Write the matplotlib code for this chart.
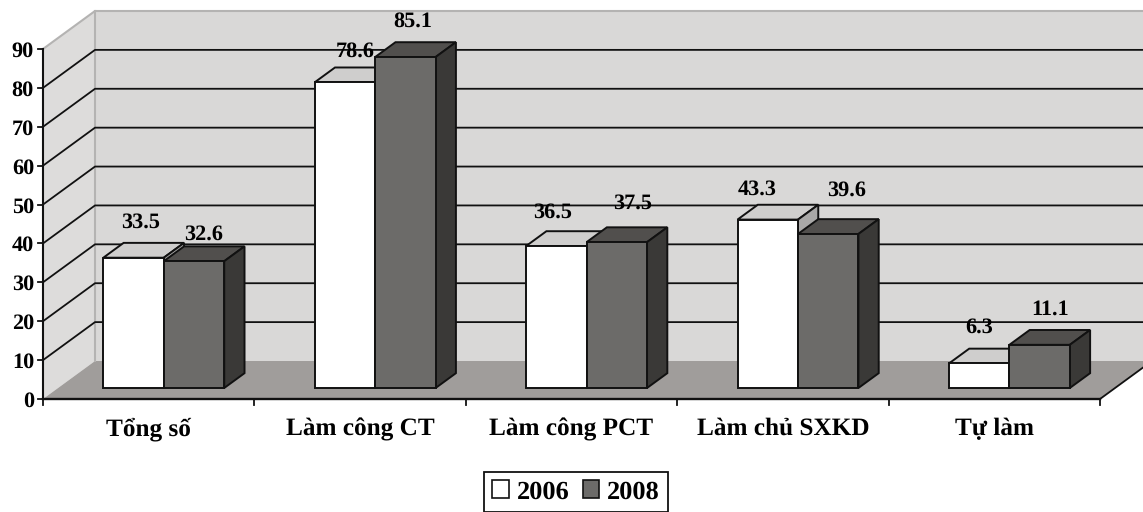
import matplotlib
matplotlib.use('Agg')
import numpy as np
from matplotlib import pyplot as plt
from matplotlib.patches import Polygon, Patch

categories = ['Tổng số', 'Làm công CT', 'Làm công PCT', 'Làm chủ SXKD', 'Tự làm']
years = ['2006', '2008']
values_2006 = [33.5, 78.6, 36.5, 43.3, 6.3]
values_2008 = [32.6, 85.1, 37.5, 39.6, 11.1]
yticks = list(range(0, 100, 10))

plt.rcParams['font.family'] = ['Liberation Serif', 'DejaVu Serif']
plt.rcParams['font.weight'] = 'bold'
plt.rcParams['text.hinting'] = 'none'

W, H = 1143, 512
x_unit = 211.4   # px per category
y_unit = 3.889   # px per value unit
x0_px, y0_px = 43, 399
depth_x = 52 / x_unit
depth_y = 38 / y_unit

fig = plt.figure(figsize=(W / 100, H / 100), dpi=100)
ax = fig.add_axes([0, 0, 1, 1])
ax.set_xlim(-x0_px / x_unit, (W - x0_px) / x_unit)
ax.set_ylim((y0_px - H) / y_unit, y0_px / y_unit)
ax.axis('off')

n = len(categories)
ymax = yticks[-1]


def sk(x, v, d=0.0):
    # front plane point pushed back by fraction d of the chart depth
    return (x + d * depth_x, v + d * depth_y)


# walls and floor
ax.add_patch(Polygon([sk(0, 0), sk(0, 0, 1), sk(0, ymax, 1), sk(0, ymax)],
                     fc='#dddcdb', ec='none', zorder=1))
ax.add_patch(Polygon([sk(0, 0, 1), sk(n, 0, 1), sk(n, ymax, 1), sk(0, ymax, 1)],
                     fc='#d9d8d7', ec='none', zorder=1))
ax.add_patch(Polygon([sk(0, 0), sk(n, 0), sk(n, 0, 1), sk(0, 0, 1)],
                     fc='#a09d9b', ec='none', zorder=2))
edge = '#b4b3b2'
ax.plot(*zip(sk(0, ymax), sk(0, ymax, 1), sk(n, ymax, 1)), color=edge, lw=1.5, zorder=2)
ax.plot(*zip(sk(0, 0, 1), sk(0, ymax, 1)), color=edge, lw=1.5, zorder=2)

# gridlines, the top one is the wall edge
for v in yticks[1:-1]:
    ax.plot(*zip(sk(0, v), sk(0, v, 1), sk(n, v, 1)), color='#111111', lw=1.3, zorder=3)

# axes
ax.plot([0, 0], [0, ymax], color='#111111', lw=1.5, zorder=4)
ax.plot([0, n], [0, 0], color='#111111', lw=1.7, zorder=4)
ax.plot(*zip(sk(n, 0), sk(n, 0, 1)), color='#111111', lw=1.3, zorder=4)
for v in yticks:
    ax.plot([-5 / x_unit, 0], [v, v], color='#111111', lw=1.3, zorder=4)
    ax.text(-9 / x_unit, v - 2.5 / y_unit, str(v), ha='right', va='center', fontsize=16,
            color='black')
for i in range(n + 1):
    ax.plot([i, i], [0, -6 / y_unit], color='#111111', lw=1.3, zorder=4)
for i, name in enumerate(categories):
    ax.text(i + 0.5, -30 / y_unit, name, ha='center', va='center', fontsize=18.2, color='black')

# bars
bar_w = 0.286
d_front, d_back = 0.29, 0.68
series = [
    (values_2006, '#ffffff', '#cfcecd', '#a9a8a7'),
    (values_2008, '#6c6b69', '#514f4d', '#3a3937'),
]
nudges = [
    [(7, 35), (10, 31), (-4, 34), (-11, 30), (0, 36)],
    [(10, 27), (7, 36), (16, 39), (18, 44), (10, 35)],
]
for s, (vals, front, top, side) in enumerate(series):
    for i, v in enumerate(vals):
        left = i + 0.5 - bar_w + s * bar_w
        right = left + bar_w
        kw = dict(ec='#111111', lw=1.4, joinstyle='miter', zorder=5 + s + i * 0.01)
        ax.add_patch(Polygon([sk(left, v, d_front), sk(right, v, d_front),
                              sk(right, v, d_back), sk(left, v, d_back)], fc=top, **kw))
        ax.add_patch(Polygon([sk(right, 0, d_front), sk(right, 0, d_back),
                              sk(right, v, d_back), sk(right, v, d_front)], fc=side, **kw))
        ax.add_patch(Polygon([sk(left, 0, d_front), sk(right, 0, d_front),
                              sk(right, v, d_front), sk(left, v, d_front)], fc=front, **kw))
        cx, cy = sk(left + bar_w / 2, v, d_front)
        dx, dy = nudges[s][i]
        ax.text(cx + dx / x_unit, cy + dy / y_unit, f'{v:.1f}', ha='center', va='center',
                fontsize=16, color='black', zorder=8)

# legend
handles = [Patch(fc=series[k][1], ec='#111111', lw=1.2, label=years[k]) for k in range(2)]
leg = ax.legend(handles=handles, ncol=2, loc='center', prop={'size': 19, 'weight': 'bold'},
                bbox_to_anchor=(576 / W, 1 - 492 / H), bbox_transform=fig.transFigure,
                fancybox=False, framealpha=1, edgecolor='#111111', handlelength=0.62,
                handleheight=0.62, handletextpad=0.3, columnspacing=0.5,
                borderpad=0.3, labelspacing=0, borderaxespad=0)
leg.get_frame().set_linewidth(1.3)

fig.savefig('out.png', dpi=100)
